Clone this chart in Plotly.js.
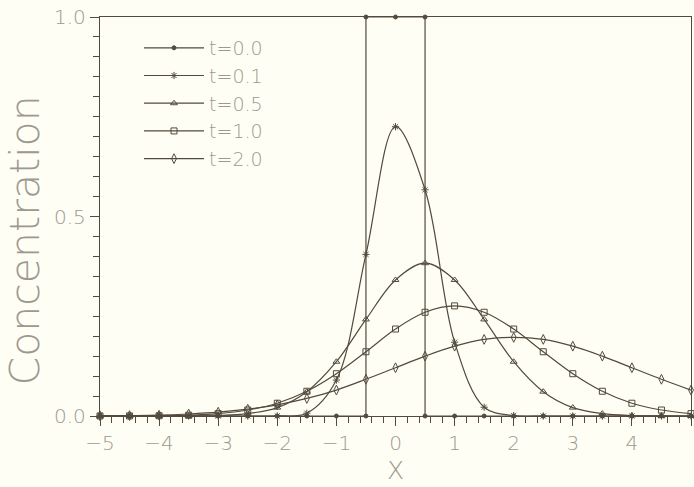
<!DOCTYPE html>
<html>
<head>
<meta charset="utf-8">
<script src="https://cdn.plot.ly/plotly-3.0.1.min.js"></script>
<style>html,body{margin:0;padding:0;background:#fffef4;}#chart{width:694px;height:487px;}</style>
</head>
<body>
<div id="chart"></div>
<script>
// x positions of the markers (every 0.5)
const xGrid = [-5,-4.5,-4,-3.5,-3,-2.5,-2,-1.5,-1,-0.5,0,0.5,1,1.5,2,2.5,3,3.5,4,4.5,5];
// t = 0.0 : initial box
const x_t00 = [-5,-4.5,-4,-3.5,-3,-2.5,-2,-1.5,-1,-0.5,-0.5,0,0.5,0.5,1,1.5,2,2.5,3,3.5,4,4.5,5];
const c_t00 = [0,0,0,0,0,0,0,0,0,0,1,1,1,0,0,0,0,0,0,0,0,0,0];
// values
const c_t01 = [0,0,0,0,0,0,0.0003,0.007,0.09,0.405,0.725,0.567,0.185,0.022,0.001,0,0,0,0,0,0];
const c_t05 = [0,0,0,0.0002,0.0013,0.006,0.021,0.061,0.136,0.242,0.341,0.383,0.341,0.242,0.136,0.061,0.021,0.006,0.0013,0.0002,0];
const c_t10 = [0.0001,0.0002,0.0007,0.002,0.006,0.015,0.032,0.062,0.106,0.161,0.218,0.260,0.276,0.260,0.218,0.161,0.106,0.062,0.032,0.015,0.006];
const c_t20 = [0.0005,0.001,0.002,0.005,0.0095,0.017,0.028,0.044,0.065,0.092,0.121,0.150,0.175,0.192,0.197,0.192,0.175,0.150,0.121,0.092,0.065];
const names = ['t=0.0','t=0.1','t=0.5','t=1.0','t=2.0'];

const ink = '#524a3c';
const txt = '#9c9992';
function tr(x, y, name, symbol, size, shape) {
  return {
    x: x, y: y, name: name, type: 'scatter', mode: 'lines+markers',
    line: {color: ink, width: 1.2, shape: shape, smoothing: 1},
    marker: {symbol: symbol, size: size, color: ink, line: {color: ink, width: 1}},
    cliponaxis: false
  };
}
const data = [
  tr(x_t00, c_t00, names[0], 'circle', 4, 'linear'),
  tr(xGrid, c_t01, names[1], 'asterisk-open', 6, 'spline'),
  tr(xGrid, c_t05, names[2], 'triangle-up-open', 6, 'spline'),
  tr(xGrid, c_t10, names[3], 'square-open', 6, 'spline'),
  tr(xGrid, c_t20, names[4], 'diamond-tall-open', 7, 'spline')
];
const fam = '"DejaVu Sans", Lato, sans-serif';
const fnt = {family: fam, color: txt, size: 20, weight: 200};
const layout = {
  width: 694, height: 487,
  margin: {l: 100, r: 3, t: 17, b: 71},
  paper_bgcolor: '#fffef4', plot_bgcolor: '#fffef4',
  showlegend: true,
  legend: {x: 0.066, y: 0.97, xanchor: 'left', yanchor: 'top', bgcolor: 'rgba(0,0,0,0)',
           font: {family: fam, color: txt, size: 19, weight: 200}, itemwidth: 60},
  xaxis: {
    range: [-5, 5], dtick: 1, tick0: -5, showgrid: false, zeroline: false,
    showline: true, linecolor: ink, linewidth: 1.2, mirror: true,
    ticks: 'outside', ticklen: 9, tickcolor: ink, tickwidth: 1,
    minor: {dtick: 0.2, tick0: -5, ticks: 'outside', ticklen: 6, tickcolor: ink, showgrid: false},
    tickfont: fnt,
    title: {text: 'X', font: {family: fam, color: txt, size: 25, weight: 200}, standoff: 7}
  },
  yaxis: {
    range: [0, 1], dtick: 0.5, tick0: 0, showgrid: false, zeroline: false,
    showline: true, linecolor: ink, linewidth: 1.2, mirror: true,
    ticks: 'outside', ticklen: 9, tickcolor: ink, tickwidth: 1,
    minor: {dtick: 0.05, tick0: 0, ticks: 'outside', ticklen: 6, tickcolor: ink, showgrid: false},
    tickformat: '.1f',
    tickfont: fnt
  },
  annotations: [{
    text: 'Concentration', textangle: -90, showarrow: false,
    xref: 'paper', yref: 'paper', x: -0.127, y: 0.44, xanchor: 'center', yanchor: 'middle',
    font: {family: fam, color: txt, size: 41, weight: 200}
  }]
};
Plotly.newPlot('chart', data, layout, {displayModeBar: false, staticPlot: true});
</script>
</body>
</html>
